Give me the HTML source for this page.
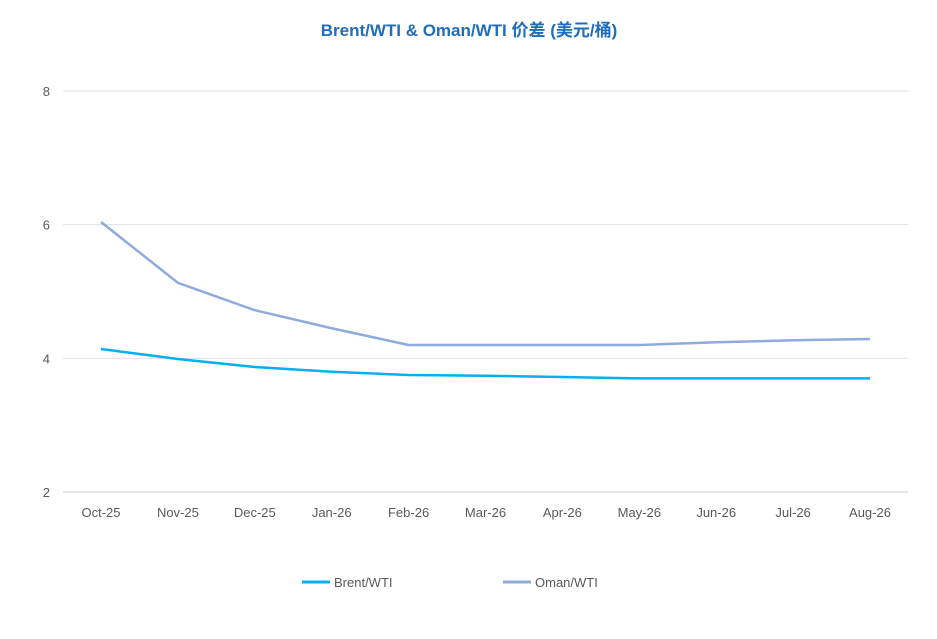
<!DOCTYPE html>
<html><head><meta charset="utf-8"><style>
body{margin:0;background:#fff;}
svg text{font-family:"Liberation Sans","Noto Sans CJK SC",sans-serif;}
</style></head><body>
<svg width="937" height="634">
<text x="469" y="36" text-anchor="middle" font-size="17" font-weight="bold" fill="#1f6dbb">Brent/WTI &amp; Oman/WTI 价差 (美元/桶)</text>
<g id="grid"></g>
<g id="yt"></g>
<g id="xt"></g>
<g id="lines"></g>
<g>
<line x1="302" y1="582" x2="330" y2="582" stroke="#00b0f0" stroke-width="3"/>
<text x="334" y="587" font-size="13" fill="#595959">Brent/WTI</text>
<line x1="503" y1="582" x2="531" y2="582" stroke="#8faadc" stroke-width="3"/>
<text x="535" y="587" font-size="13" fill="#595959">Oman/WTI</text>
</g>
</svg>
<script>
const categories=["Oct-25","Nov-25","Dec-25","Jan-26","Feb-26","Mar-26","Apr-26","May-26","Jun-26","Jul-26","Aug-26"];
const brent=[4.14,3.99,3.87,3.80,3.75,3.74,3.72,3.70,3.70,3.70,3.70];
const oman=[6.04,5.13,4.72,4.45,4.20,4.20,4.20,4.20,4.24,4.27,4.29];
const yTicks=[2,4,6,8];
const NS="http://www.w3.org/2000/svg";
const x=i=>101+i*(870-101)/(categories.length-1);
const y=v=>492-(v-2)*(492-91)/6;
function mk(p,t,a){const e=document.createElementNS(NS,t);for(const k in a)e.setAttribute(k,a[k]);document.getElementById(p).appendChild(e);return e;}
yTicks.forEach(v=>{
 const l=mk('grid','line',{x1:63,x2:908,y1:y(v),y2:y(v),stroke:v===2?'#d0d0d0':'#e0e0e0','stroke-width':1});
 
 
 const t=mk('yt','text',{x:50,y:y(v)+5,'text-anchor':'end','font-size':13,fill:'#595959'});t.textContent=v;
 
 
});
categories.forEach((c,i)=>{
 const t=mk('xt','text',{x:x(i),y:517,'text-anchor':'middle','font-size':13,fill:'#595959'});t.textContent=c;
 
 
});
function line(d,col,name){
 const p=mk('lines','polyline',{points:d.map((v,i)=>x(i)+','+y(v)).join(' '),fill:'none',stroke:col,'stroke-width':2.5,'stroke-linejoin':'round'});
 
 
}
line(brent,'#00b0f0','brent-wti-line');
line(oman,'#8faadc','oman-wti-line');
</script>
</body></html>
